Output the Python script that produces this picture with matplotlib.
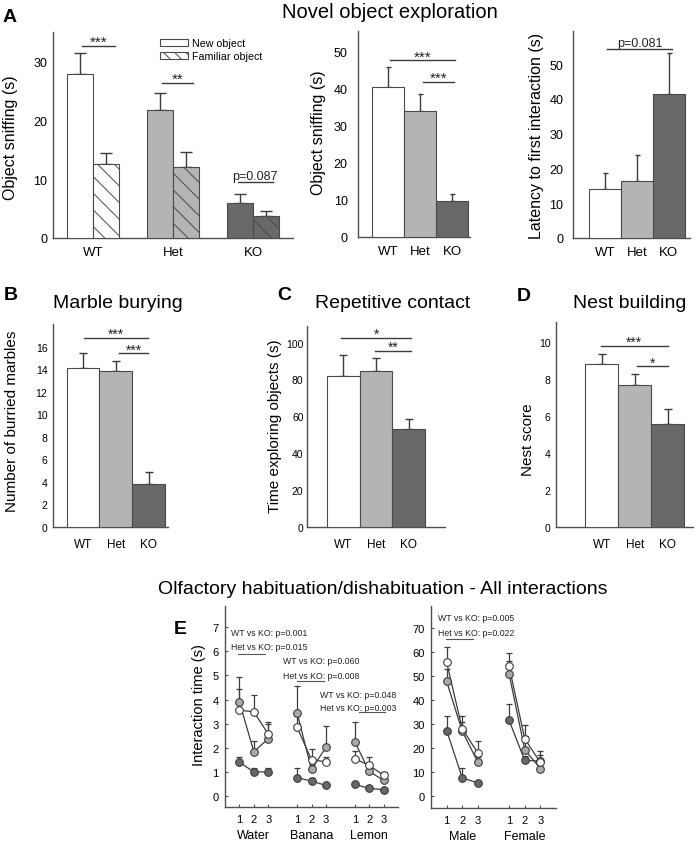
import numpy as np
import matplotlib
matplotlib.use('Agg')
import matplotlib.pyplot as plt
from matplotlib import font_manager
from matplotlib.patches import Patch
import matplotlib.transforms as mtransforms

# ---------------- data ----------------
groups = ['WT', 'Het', 'KO']

new_obj = [27.9, 21.8, 6.0]
new_obj_sem = [3.6, 2.9, 1.4]
fam_obj = [12.5, 12.0, 3.8]
fam_obj_sem = [2.0, 2.6, 0.8]

sniff = [40.4, 33.8, 9.7]
sniff_sem = [5.2, 4.6, 1.9]

latency = [14.0, 16.4, 41.4]
latency_sem = [4.8, 7.4, 11.8]

marbles = [14.1, 13.8, 3.8]
marbles_sem = [1.3, 0.95, 1.1]

contact = [82.0, 84.6, 53.0]
contact_sem = [11.3, 7.3, 5.3]

nest = [8.85, 7.7, 5.6]
nest_sem = [0.5, 0.57, 0.78]

trials = ['1', '2', '3']
odors = ['Water', 'Banana', 'Lemon']
odor_wt = [3.56, 3.49, 2.57, 2.85, 1.50, 1.42, 1.55, 1.27, 0.86]
odor_wt_sem = [0.89, 0.69, 0.51, 0.45, 0.45, 0.18, 0.30, 0.33, 0.14]
odor_het = [3.90, 1.84, 2.37, 3.45, 1.10, 2.02, 2.26, 1.02, 0.65]
odor_het_sem = [1.02, 0.46, 0.60, 1.13, 0.20, 0.90, 0.80, 0.18, 0.15]
odor_ko = [1.40, 1.00, 1.00, 0.76, 0.62, 0.44, 0.48, 0.32, 0.26]
odor_ko_sem = [0.21, 0.18, 0.15, 0.41, 0.14, 0.06, 0.12, 0.08, 0.04]

social = ['Male', 'Female']
social_wt = [55.7, 28.0, 17.9, 54.0, 23.8, 14.0]
social_wt_sem = [6.5, 5.3, 5.2, 5.6, 5.9, 3.0]
social_het = [47.8, 27.0, 14.1, 50.9, 19.3, 11.4]
social_het_sem = [5.0, 4.0, 2.0, 5.2, 5.9, 2.0]
social_ko = [27.3, 7.6, 5.4, 31.5, 14.8, 14.6]
social_ko_sem = [6.2, 4.2, 1.0, 6.9, 2.0, 4.0]

# ---------------- style ----------------
names = {f.name for f in font_manager.fontManager.ttflist}
SANS = 'Liberation Sans' if 'Liberation Sans' in names else 'DejaVu Sans'
NARROW = 'Liberation Sans Narrow' if 'Liberation Sans Narrow' in names else SANS
plt.rcParams['font.family'] = [SANS, 'DejaVu Sans']
plt.rcParams['hatch.linewidth'] = 0.7

WHITE = '#ffffff'
LIGHT = '#b4b4b4'
DARK = '#686868'
EDGE = '#4a4a4a'
LINE = '#3c3c3c'
SPINE = '#505050'
bar_colors = [WHITE, LIGHT, DARK]

W, H = 700, 845
fig = plt.figure(figsize=(7, 8.45), dpi=100)


def ax_px(L, R, T, B):
    a = fig.add_axes([L / W, 1 - B / H, (R - L) / W, (B - T) / H])
    for s in ['top', 'right']:
        a.spines[s].set_visible(False)
    for s in ['left', 'bottom']:
        a.spines[s].set_color(SPINE)
        a.spines[s].set_linewidth(1.0)
    return a


def bars(ax, x, vals, sem, width, capsize, hatch=None):
    ax.bar(x, vals, width, color=bar_colors, edgecolor=EDGE, linewidth=0.8,
           hatch=hatch, zorder=3)
    ax.errorbar(x, vals, yerr=[np.zeros(len(vals)), sem], fmt='none',
                ecolor=LINE, elinewidth=1.0, capsize=capsize, capthick=1.0, zorder=2)


def sig(ax, x0, x1, y, label, fs=11, off=0):
    ax.plot([x0, x1], [y, y], color=LINE, lw=1.0, zorder=4, clip_on=False)
    ax.annotate(label, xy=((x0 + x1) / 2, y), xytext=(0, off), textcoords='offset points',
                ha='center', va='baseline', fontsize=fs, color='#222222')


def ylabel(x, y, s, fs):
    fig.text(x / W, 1 - y / H, s, rotation=90, ha='center', va='center', fontsize=fs)


def ftext(x, y, s, fs, **kw):
    fig.text(x / W, 1 - y / H, s, ha='center', va='center', fontsize=fs, **kw)


def bar_ticks(ax, x, fs_x, fs_y, pad_y, pad_x):
    ax.set_xticks(x)
    ax.set_xticklabels(groups)
    ax.tick_params(axis='x', length=0, labelsize=fs_x, pad=pad_x)
    ax.tick_params(axis='y', length=0, labelsize=fs_y, pad=pad_y)


xg = np.arange(3)

# ---------------- Panel A ----------------
ftext(10, 17, 'A', 14, fontweight='bold')
ftext(390, 13, 'Novel object exploration', 14.5)

a1 = ax_px(53, 293, 33, 239)
w = 0.33
a1.bar(xg - w / 2, new_obj, w, color=bar_colors, edgecolor=EDGE, linewidth=0.8, zorder=3)
a1.bar(xg + w / 2, fam_obj, w, color=bar_colors, edgecolor=EDGE, linewidth=0.8,
       hatch='\\\\', zorder=3)
a1.errorbar(xg - w / 2, new_obj, yerr=[np.zeros(3), new_obj_sem], fmt='none', ecolor=LINE,
            elinewidth=1.0, capsize=4.5, capthick=1.0, zorder=2)
a1.errorbar(xg + w / 2, fam_obj, yerr=[np.zeros(3), fam_obj_sem], fmt='none', ecolor=LINE,
            elinewidth=1.0, capsize=4.5, capthick=1.0, zorder=2)
a1.set_xlim(-0.5, 2.5)
a1.set_ylim(0, 35)
a1.set_yticks([0, 10, 20, 30])
bar_ticks(a1, xg, 9.5, 9, 4.3, 6)
sig(a1, -0.14, 0.28, 32.6, '***')
sig(a1, 0.86, 1.25, 26.4, '**')
sig(a1, 1.81, 2.25, 9.5, 'p=0.087', fs=9, off=2.5)
handles = [Patch(facecolor=WHITE, edgecolor=EDGE, linewidth=0.8),
           Patch(facecolor=WHITE, edgecolor=EDGE, linewidth=0.8, hatch='\\\\\\')]
a1.legend(handles, ['New object', 'Familiar object'], loc='upper left',
          bbox_to_anchor=((160 - 53) / 240, (239 - 39) / 206), frameon=False,
          borderpad=0, borderaxespad=0, handlelength=2.6, handleheight=0.6,
          handletextpad=0.4, labelspacing=0.32, fontsize=7.7)
ylabel(11, 138, 'Object sniffing (s)', 11.5)

a2 = ax_px(358, 470, 32, 238)
bars(a2, xg, sniff, sniff_sem, 1.0, 1.8)
a2.set_xlim(-0.94, 2.56)
a2.set_ylim(0, 55.4)
a2.set_yticks(np.arange(0, 51, 10))
bar_ticks(a2, xg, 9.5, 9, 7.5, 6)
sig(a2, 0.05, 2.1, 47.5, '***')
sig(a2, 1.1, 2.05, 41.8, '***')
ylabel(318, 133, 'Object sniffing (s)', 11.5)

a3 = ax_px(573, 690, 32, 239)
bars(a3, xg, latency, latency_sem, 1.0, 1.8)
a3.set_xlim(-1.0, 2.66)
a3.set_ylim(0, 59.5)
a3.set_yticks(np.arange(0, 51, 10))
bar_ticks(a3, xg, 9.5, 9, 7, 6)
sig(a3, 0.06, 2.1, 54.3, 'p=0.081', fs=9, off=2.5)
ylabel(537, 136, 'Latency to first interaction (s)', 11.5)

# ---------------- Panel B ----------------
ftext(11, 295, 'B', 14, fontweight='bold')
ftext(118, 304, 'Marble burying', 14)
b = ax_px(53, 168, 325, 528)
bars(b, xg, marbles, marbles_sem, 1.0, 2.7)
b.set_xlim(-0.91, 2.58)
b.set_ylim(0, 18)
b.set_yticks(np.arange(0, 17, 2))
bar_ticks(b, xg, 8.5, 7.5, 4, 8)
sig(b, 0.03, 1.97, 16.8, '***', fs=10)
sig(b, 1.09, 1.97, 15.4, '***', fs=10)
ylabel(12, 421, 'Number of burried marbles', 11)

# ---------------- Panel C ----------------
ftext(284, 295, 'C', 14, fontweight='bold')
ftext(393, 304, 'Repetitive contact', 14)
c = ax_px(307, 445, 327, 528)
bars(c, xg, contact, contact_sem, 1.0, 2.7)
c.set_xlim(-1.1, 3.1)
c.set_ylim(0, 109)
c.set_yticks(np.arange(0, 101, 20))
bar_ticks(c, xg, 8.5, 7.5, 2.5, 8)
sig(c, -0.06, 2.08, 102.7, '*', fs=10)
sig(c, 0.98, 2.08, 95.4, '**', fs=10)
ylabel(275, 426, 'Time exploring objects (s)', 11)

# ---------------- Panel D ----------------
ftext(524, 297, 'D', 14, fontweight='bold')
ftext(630, 304, 'Nest building', 14)
d = ax_px(556, 693, 323, 528)
bars(d, xg, nest, nest_sem, 1.0, 2.7)
d.set_xlim(-1.39, 2.76)
d.set_ylim(0, 11.1)
d.set_yticks(np.arange(0, 11, 2))
bar_ticks(d, xg, 8.5, 7.5, 4, 8)
sig(d, -0.03, 1.99, 9.8, '***', fs=10)
sig(d, 1.06, 1.99, 8.7, '*', fs=10)
ylabel(528, 440, 'Nest score', 11)

# ---------------- Panel E ----------------
ftext(180, 630, 'E', 14, fontweight='bold')
ftext(383, 589, 'Olfactory habituation/dishabituation - All interactions', 14)


def habituation(ax, cats, wt, wt_sem, het, het_sem, ko, ko_sem):
    n = len(cats)
    for series, sem, face in [(ko, ko_sem, DARK), (het, het_sem, '#aaaaaa'), (wt, wt_sem, WHITE)]:
        for i in range(n):
            xs = np.arange(1, 4) + 4 * i
            ys = np.array(series[3 * i:3 * i + 3])
            es = np.array(sem[3 * i:3 * i + 3])
            ax.errorbar(xs, ys, yerr=[np.zeros(3), es], fmt='none', ecolor=LINE,
                        elinewidth=0.9, capsize=2.2, capthick=0.9, zorder=2)
            ax.plot(xs, ys, '-', color=LINE, lw=0.9, zorder=3)
            ax.plot(xs, ys, 'o', ms=5.5, mfc=face, mec=LINE, mew=0.8, zorder=4)
    pos = np.concatenate([np.arange(1, 4) + 4 * i for i in range(n)])
    ax.set_xticks(pos)
    ax.set_xticklabels(trials * n)
    ax.tick_params(axis='x', direction='in', length=2.5, labelsize=8, pad=5, color=SPINE)
    ax.tick_params(axis='y', direction='in', length=2.5, labelsize=8, pad=4.5, color=SPINE)
    tr = mtransforms.blended_transform_factory(ax.transData, ax.transAxes)
    for i, cname in enumerate(cats):
        ax.text(2 + 4 * i, -0.14, cname, transform=tr, ha='center', va='center', fontsize=9)


def note(ax, x, y, s):
    ax.text(x, y, s, ha='left', va='center', fontsize=6.3, family=[NARROW, 'DejaVu Sans'],
            color='#222222')


e1 = ax_px(225, 398, 607, 808)
habituation(e1, odors, odor_wt, odor_wt_sem, odor_het, odor_het_sem, odor_ko, odor_ko_sem)
e1.set_xlim(0, 12)
e1.set_ylim(-0.456, 7.88)
e1.set_yticks(np.arange(0, 8))
note(e1, 0.45, 6.8, 'WT vs KO: p=0.001')
note(e1, 0.45, 6.22, 'Het vs KO: p=0.015')
e1.plot([0.93, 2.8], [5.9, 5.9], color='#555555', lw=0.8)
note(e1, 4.03, 5.6, 'WT vs KO: p=0.060')
note(e1, 4.03, 4.98, 'Het vs KO: p=0.008')
e1.plot([4.97, 6.9], [4.77, 4.77], color='#555555', lw=0.8)
note(e1, 6.59, 4.23, 'WT vs KO: p=0.048')
note(e1, 6.59, 3.65, 'Het vs KO: p=0.003')
e1.plot([9.28, 11.07], [3.49, 3.49], color='#555555', lw=0.8)
ylabel(199, 705, 'Interaction time (s)', 10.5)

e2 = ax_px(431, 556, 607, 809)
habituation(e2, social, social_wt, social_wt_sem, social_het, social_het_sem,
            social_ko, social_ko_sem)
e2.set_xlim(0, 8)
e2.set_ylim(-5.0, 79.2)
e2.set_yticks(np.arange(0, 71, 10))
note(e2, 0.42, 74.2, 'WT vs KO: p=0.005')
note(e2, 0.42, 68.3, 'Het vs KO: p=0.022')
e2.plot([0.94, 2.68], [65.4, 65.4], color='#555555', lw=0.8)

fig.savefig('out.png', dpi=100)
